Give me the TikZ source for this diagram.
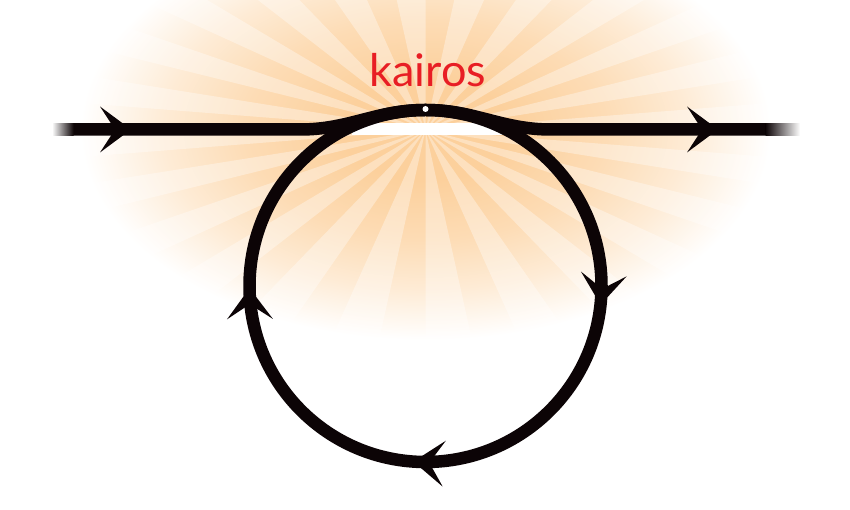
\documentclass[tikz,border=0pt]{standalone}
\usepackage{fontspec}
\newfontfamily\kairosfont{Lato}
\RequirePackage{xcolor}
\definecolor{loopblack}{RGB}{12,4,6}
\definecolor{glowpeach}{RGB}{252,208,156}
\definecolor{kairosred}{RGB}{232,30,36}
\usetikzlibrary{calc}
\usetikzlibrary{arrows.meta}
\usetikzlibrary{decorations.markings}
\pgfdeclareradialshading{kairosglow}{\pgfpoint{0bp}{0bp}}{%
  color(0bp)=(glowpeach); color(6bp)=(glowpeach);
  color(13bp)=(glowpeach!75); color(19bp)=(glowpeach!42); color(23bp)=(glowpeach!14);
  color(25bp)=(white); color(50bp)=(white)}
\tikzset{
  flow/.style={draw=loopblack, line width=12.5pt, line join=round},
  flowtip/.style={decoration={markings,
      mark=at position #1 with {\arrow{Stealth[length=31pt,width=46pt,inset=15pt,line width=0pt,color=loopblack]}}},
    postaction={decorate}},
  ray/.style={white, opacity=0.35}
}
\begin{document}
\begin{tikzpicture}[x=1pt, y=1pt]
  \useasboundingbox (0,0) rectangle (850,510);

  \coordinate (glow) at (425.5,380);
  \coordinate (in) at (73,380.5);
  \coordinate (out) at (766,380.5);
  \coordinate (join west) at (300,380.5);
  \coordinate (join east) at (551,380.5);
  \coordinate (apex) at (425.5,400);
  \coordinate (loop) at (425.5,224);

  % the glow behind kairos
  \begin{scope}
    \clip (glow) ellipse [x radius=345, y radius=210];
    \shade [shading=kairosglow] (glow) ellipse [x radius=345, y radius=210];
    \foreach \a in {0,15,...,345} {
      \fill [ray] (glow) -- ($(glow)+(\a:420 and 250)$) -- ($(glow)+(\a+7.5:420 and 250)$) -- cycle;
    }
  \end{scope}
  \fill [white] (352,375) rectangle (512,386.5);

  % the line of time
  \draw [flow, flowtip=58pt] (in) -- (join west)
    .. controls +(50,0) and +(-50,0) .. (apex)
    .. controls +(50,0) and +(-50,0) .. (join east) -- (out);
  \draw [flow, flowtip=-48pt] (in) -- (out) [draw=none];
  \shade [left color=white, right color=loopblack] (52,374.25) rectangle (73.5,386.75);
  \shade [left color=loopblack, right color=white] (765.5,374.25) rectangle (800,386.75);

  % the loop
  \draw [flow, decoration={markings,
      mark=at position 0.267 with {\arrow{Stealth[length=31pt,width=46pt,inset=15pt,line width=0pt,color=loopblack]}},
      mark=at position 0.511 with {\arrow{Stealth[length=31pt,width=46pt,inset=15pt,line width=0pt,color=loopblack]}},
      mark=at position 0.748 with {\arrow{Stealth[length=31pt,width=46pt,inset=15pt,line width=0pt,color=loopblack]}}},
    postaction={decorate}]
    (apex) arc [start angle=90, end angle=-270, radius=176];

  \fill [white] (apex) ++(0,1) circle (3);
  \node [anchor=base, text=kairosred, font=\kairosfont\fontsize{45}{45}\selectfont] (kairos) at (428,423) {kairos};
\end{tikzpicture}
\end{document}
